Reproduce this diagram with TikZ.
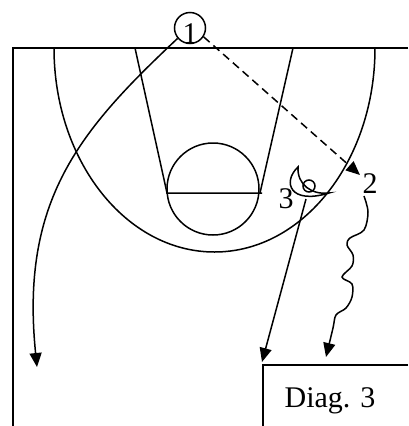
\documentclass[tikz,border=0pt]{standalone}
\usepackage{fontspec}
\setmainfont{Liberation Serif}
\usetikzlibrary{arrows.meta}
\tikzset{
  court/.style={line width=1.5pt},
  mv/.style={line width=1.5pt,-{Triangle[length=14pt,width=12pt]}},
  lbl/.style={font=\fontsize{30}{31}\selectfont, inner sep=0pt},
  tick/.style={line width=2.6pt},
}
\begin{document}
\begin{tikzpicture}[x=1pt,y=-1pt]
\useasboundingbox (0,0) rectangle (408,426);
% court
\draw[court] (408,48) -- (13,48) -- (13,426);
\draw[tick] (45,48) -- (56,48);
\draw[tick] (356,48) -- (383,48);
\draw[court] (54,48) arc[start angle=180, end angle=360, x radius=160.5pt, y radius=204pt];
\draw[court] (135,48) -- (167,193) -- (262,193);
\draw[court] (293,48) -- (260,193);
\draw[court] (213,189) circle[radius=46pt];
% player 1
\node[draw, circle, court, minimum size=31pt, inner sep=0pt] (p1) at (190,28) {};
\node[lbl, anchor=base] (n1) at (190,43) {1};
% player 2
\node[lbl, anchor=base] (p2) at (370,193) {2};
\coordinate (passend) at (360,175);
% player 3
\node[lbl, anchor=base] (p3) at (286,208) {3};
\node[draw, circle, court, minimum size=12pt, inner sep=0pt] (p3c) at (309,186) {};
\draw[court] (298,167) .. controls (282,182) and (290,205) .. (329,193)
  .. controls (312,195) and (297,185) .. (298,167) -- cycle;
\coordinate (s3) at (306,199);
\coordinate (e3) at (262,362);
% cut of 1
\coordinate (e1) at (37,367);
\draw[mv] (p1.220) .. controls (80,130) and (20,200) .. (e1);
% pass
\draw[mv, dash pattern=on 8pt off 5pt] (p1.-33) -- (passend);
% cut of 3
\draw[mv] (s3) -- (e3);
% dribble of 2
\coordinate (d0) at (364,196);
\draw[mv] plot[smooth, tension=0.55] coordinates {(d0) (368,212) (364,230) (350,238) (347,245) (353,255) (352,266) (342,277) (352,284) (352,297) (346,308) (336,315) (333,328) (326,357)};
% box
\draw[court] (408,365) -- (263,365) -- (263,426);
\node[lbl, anchor=base] (diag) at (330,407) {Diag. 3};
\end{tikzpicture}
\end{document}
